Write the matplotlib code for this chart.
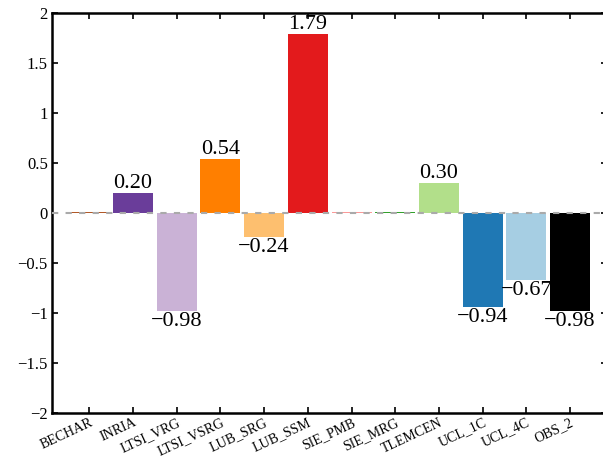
import matplotlib
matplotlib.use("Agg")
import matplotlib.pyplot as plt
import numpy as np

plt.rcParams['font.family'] = ['Liberation Serif', 'DejaVu Serif']

metodos = ["BECHAR", "INRIA", "LTSI_VRG", "LTSI_VSRG", "LUB_SRG", "LUB_SSM",
           "SIE_PMB", "SIE_MRG", "TLEMCEN", "UCL_1C", "UCL_4C", "OBS_2"]
valores = [0.005, 0.20, -0.98, 0.54, -0.24, 1.79, 0.005, 0.005, 0.30, -0.94, -0.67, -0.98]
colores = ["#b15928", "#6a3d9a", "#cab2d6", "#ff7f00", "#fdbf6f", "#e31a1c",
           "#fb9a99", "#33a02c", "#b2df8a", "#1f78b4", "#a6cee3", "#000000"]

fig = plt.figure(figsize=(6.03, 4.57), dpi=100)
# el eje derecho queda fuera de la figura, como en el original
ax = fig.add_axes([0.0862, 0.0963, 0.921, 0.8753])

x = np.arange(len(metodos))
ax.bar(x, valores, width=0.915, color=colores, zorder=2)
ax.axhline(0, color="#aaaaaa", linestyle=(0, (3, 3.5)), linewidth=1.5, zorder=3)

for xi, v in zip(x, valores):
    if abs(v) < 0.05:
        continue
    txt = ("%.2f" % v).replace("-", "\u2212")
    if v > 0:
        ax.text(xi, v, txt, ha="center", va="bottom", fontsize=16)
    else:
        ax.text(xi, v - 0.01, txt, ha="center", va="top", fontsize=16)

yt = np.arange(-2, 2.01, 0.5)
ax.set_xlim(-0.854, 11.854)
ax.set_ylim(-2, 2)
ax.set_yticks(yt)
ax.set_yticklabels([("%g" % t).replace("-", "\u2212") for t in yt], fontsize=12)
ax.set_xticks(x)
ax.set_xticklabels(metodos, rotation=25, ha="right", fontsize=10, rotation_mode="anchor")
ax.tick_params(direction="in", top=True, right=True, length=4, width=1.2, pad=3)
ax.tick_params(axis="x", pad=2)
for s in ax.spines.values():
    s.set_linewidth(1.8)

fig.savefig("out.png", dpi=100)
